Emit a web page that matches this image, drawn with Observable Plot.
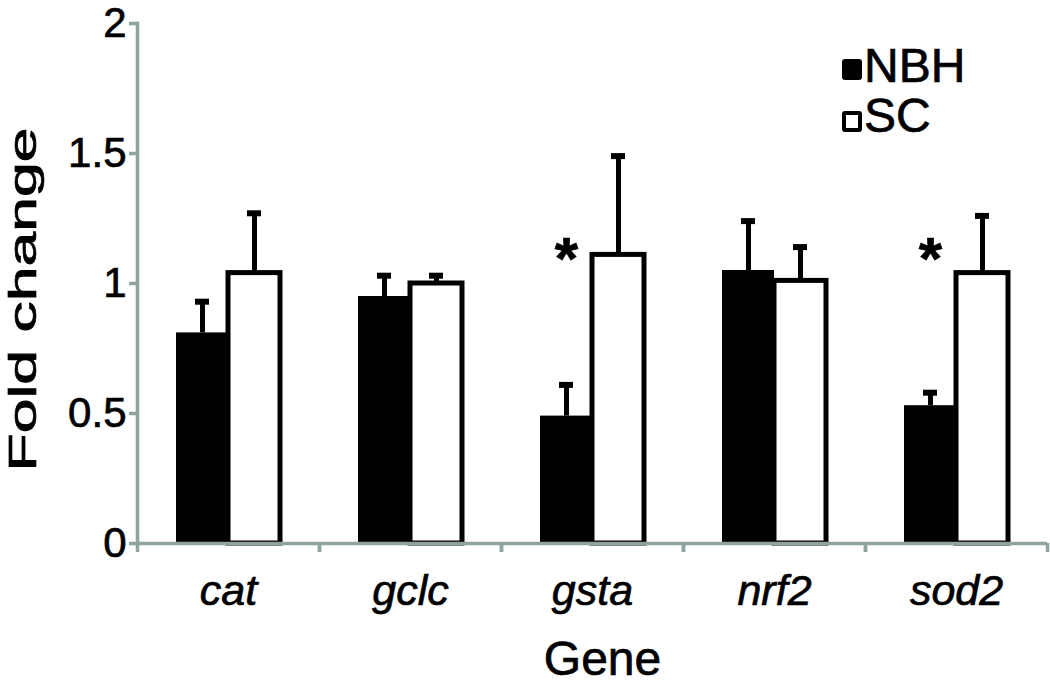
<!DOCTYPE html>
<html>
<head>
<meta charset="utf-8">
<script src="https://cdn.jsdelivr.net/npm/d3@7"></script>
<script src="https://cdn.jsdelivr.net/npm/@observablehq/plot@0.6"></script>
<style>
  body { margin: 0; background: #fff; }
  #wrap { position: relative; width: 1050px; height: 685px; font-family: "Liberation Sans", Arial, sans-serif; overflow: hidden; }
  #wrap svg text { stroke: #000; stroke-width: 0.7px; }
  .sw { position: absolute; box-sizing: border-box; border-radius: 3px; }
  .lt { position: absolute; font-size: 48px; line-height: 48px; color: #000; white-space: nowrap; -webkit-text-stroke: 0.7px #000; }
</style>
</head>
<body>
<div id="wrap"></div>
<script>
// ---- data ----
const genes = ["cat", "gclc", "gsta", "nrf2", "sod2"];
const groups = ["NBH", "SC"];
const nbhMean = [0.81, 0.95, 0.49, 1.05, 0.53];
const nbhErr  = [0.12, 0.08, 0.12, 0.19, 0.05];
const scMean  = [1.04, 1.00, 1.11, 1.01, 1.04];
const scErr   = [0.23, 0.03, 0.38, 0.13, 0.22];
const signif  = ["", "", "*", "", "*"];
const starLevel = 1.09;
const yTicks = [0, 0.5, 1, 1.5, 2];
const yLabel = "Fold change";
const xLabel = "Gene";

const rows = genes.flatMap((g, i) => [
  {gene: g, group: "NBH", mean: nbhMean[i], err: nbhErr[i]},
  {gene: g, group: "SC", mean: scMean[i], err: scErr[i]}
]);
const stars = genes.map((g, i) => ({gene: g, group: "NBH", mark: signif[i], level: starLevel}))
  .filter(d => d.mark);

const W = 1050, H = 685, mL = 137, mR = 3, mT = 23, mB = 142;
const step = (W - mL - mR) / genes.length;
const gray = "#8fa4a1";
const font = '"Liberation Sans", Arial, sans-serif';

const chart = Plot.plot({
  width: W, height: H,
  marginLeft: mL, marginRight: mR, marginTop: mT, marginBottom: mB,
  style: {fontFamily: font, fontSize: "42px", color: "#000", background: "#fff", overflow: "visible"},
  fx: {domain: genes, padding: 0, label: null},
  x: {domain: groups, paddingInner: 0, paddingOuter: 0.717, axis: null},
  y: {domain: [0, 2], label: null},
  marks: [
    Plot.frame({anchor: "left", facetAnchor: "left", stroke: gray, strokeWidth: 3.5}),
    Plot.barY(rows.filter(d => d.group === "NBH"), {fx: "gene", x: "group", y: "mean", fill: "#000"}),
    Plot.barY(rows.filter(d => d.group === "SC"), {fx: "gene", x: "group", y: "mean", fill: "#fff", stroke: "#000", strokeWidth: 5}),
    Plot.ruleX(rows, {fx: "gene", x: "group", y1: "mean", y2: d => d.mean + d.err, stroke: "#000", strokeWidth: 5}),
    Plot.tickY(rows, {fx: "gene", x: "group", y: d => d.mean + d.err, stroke: "#000", strokeWidth: 6, insetLeft: 19, insetRight: 19}),
    Plot.text(stars, {fx: "gene", x: "group", y: "level", text: "mark", fontSize: 60, fontWeight: "bold"}),
    Plot.ruleY([0], {stroke: gray, strokeWidth: 3.5}),
    Plot.axisY({ticks: yTicks, tickFormat: d => String(d), tickSize: 8, tickPadding: 3, stroke: gray, strokeWidth: 3.5, fill: "#000", fontSize: 42, label: null}),
    Plot.axisY({ticks: [], label: yLabel, labelAnchor: "center", labelArrow: "none", labelOffset: 128, fontSize: 38, fill: "#000"}),
    Plot.axisFx({anchor: "bottom", tickSize: 9, fill: "none", stroke: gray, strokeWidth: 3.5, dx: -step / 2, label: null}),
    Plot.axisFx({anchor: "bottom", tickSize: 9, fill: "none", stroke: gray, strokeWidth: 3.5, dx: step / 2, label: null}),
    Plot.axisFx({anchor: "bottom", tickSize: 0, tickPadding: 31, fontSize: 43, fontStyle: "italic", fill: "#000", label: null}),
    Plot.axisFx({anchor: "bottom", ticks: [], label: xLabel, labelAnchor: "center", labelArrow: "none", labelOffset: 131, fontSize: 48, fill: "#000"})
  ]
});

const wrap = document.getElementById("wrap");
wrap.appendChild(chart);

// stretch the rotated y title along its length like the reference, and centre it a bit lower
d3.select(chart).selectAll('[aria-label="y-axis label"] text')
  .attr("textLength", 344).attr("lengthAdjust", "spacingAndGlyphs").attr("dx", -16);
// the reference's x title sits a little right of the frame centre
d3.select(chart).selectAll('[aria-label="fx-axis label"] text, [aria-label="x-axis label"] text')
  .attr("dx", 10);

// legend (inside the plot area, top right)
const legendItems = [
  {label: "NBH", fill: "#000", border: "none"},
  {label: "SC", fill: "#fff", border: "4px solid #000"}
];
legendItems.forEach((it, i) => {
  const sw = document.createElement("div");
  sw.className = "sw";
  sw.style.left = "842px";
  sw.style.top = (59 + i * 52) + "px";
  sw.style.width = "20px";
  sw.style.height = "21px";
  sw.style.background = it.fill;
  sw.style.border = it.border;
  wrap.appendChild(sw);
  const t = document.createElement("div");
  t.className = "lt";
  t.style.left = "864px";
  t.style.top = (42 + i * 50) + "px";
  t.textContent = it.label;
  wrap.appendChild(t);
});
</script>
</body>
</html>
